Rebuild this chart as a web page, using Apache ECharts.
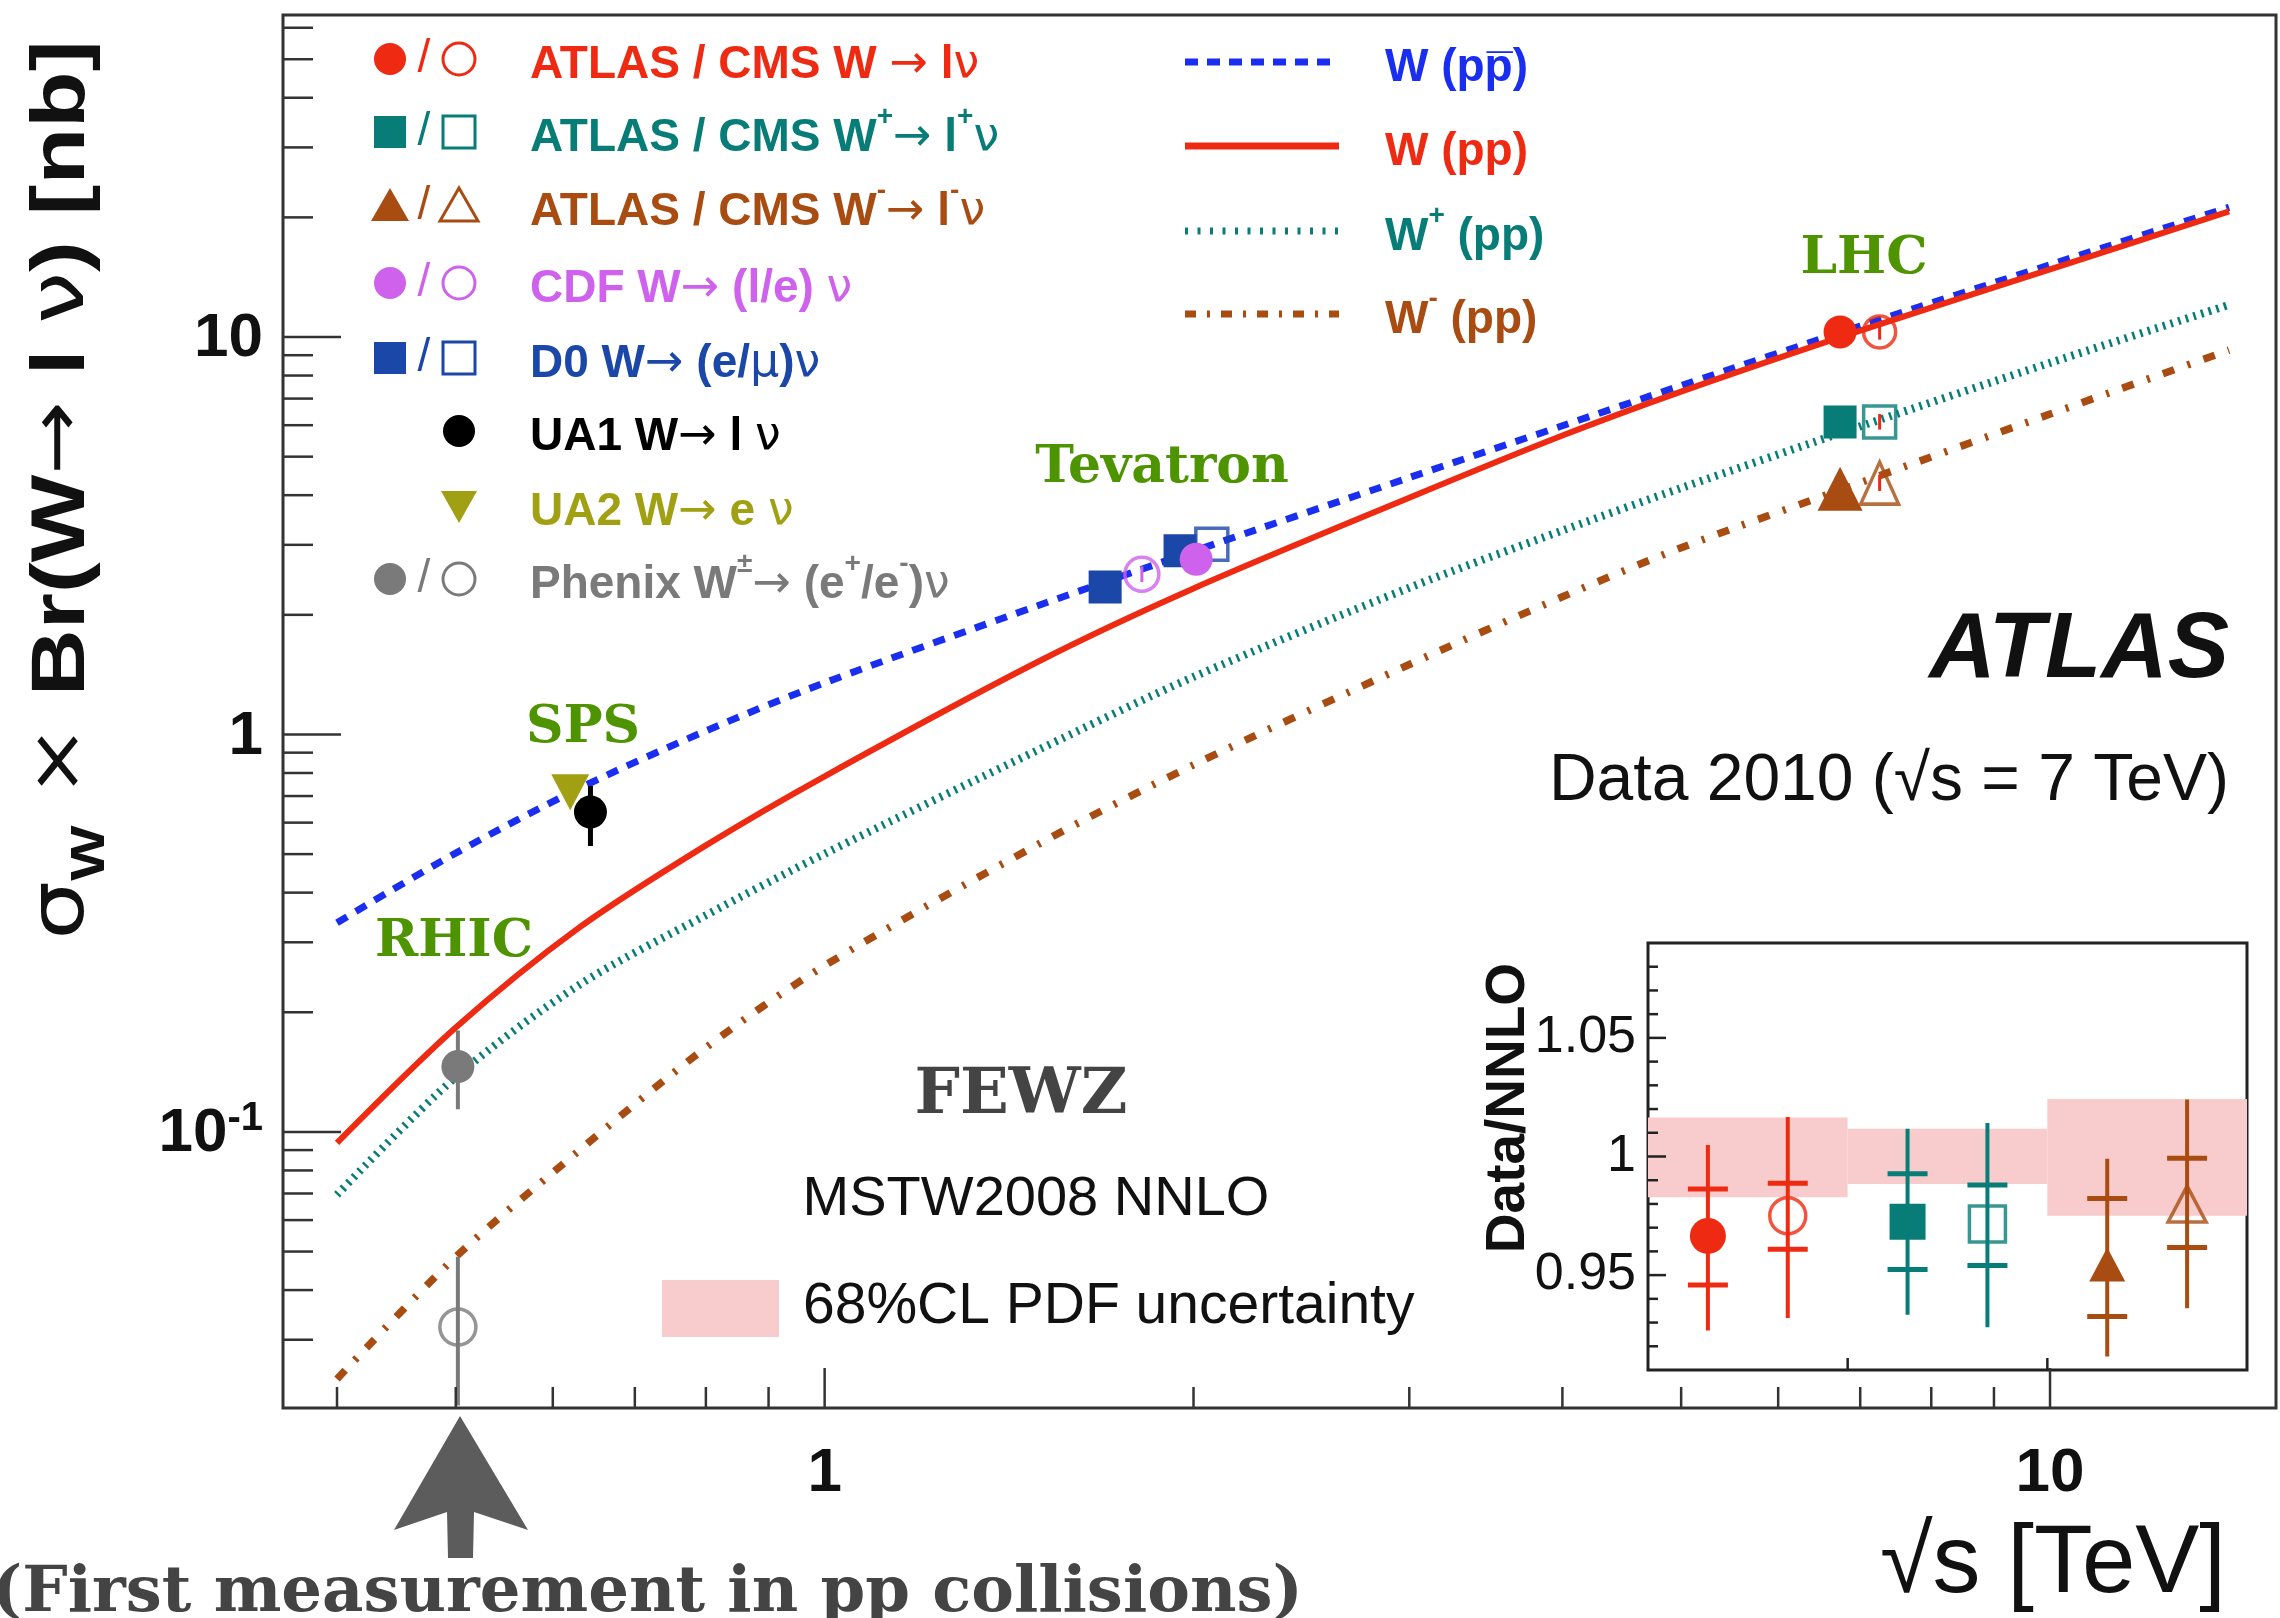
<!DOCTYPE html>
<html><head><meta charset="utf-8">
<script src="https://cdn.jsdelivr.net/npm/echarts@6/dist/echarts.min.js"></script>
<style>html,body{margin:0;padding:0;background:#fff}#c{width:2280px;height:1618px}</style>
</head><body><div id="c"></div><script>
// ---------- theory curves (sqrt(s) in TeV, sigma x BR in nb) ----------
const sqrtS    = [0.4, 0.5, 0.63, 0.8, 1, 1.5, 2, 3, 4, 5, 7, 10, 14];
const wPPbar   = [0.336, 0.503, 0.731, 1.021, 1.349, 2.12, 2.89, 4.43, 5.98, 7.55, 10.66, 15.2, 21.2];
const wPP      = [0.0938, 0.183, 0.326, 0.526, 0.785, 1.535, 2.33, 3.94, 5.65, 7.29, 10.38, 14.8, 20.7];
const wPlusPP  = [0.0695, 0.1374, 0.234, 0.351, 0.501, 0.920, 1.396, 2.34, 3.26, 4.17, 5.96, 8.61, 12.05];
const wMinusPP = [0.0239, 0.0485, 0.0896, 0.163, 0.262, 0.533, 0.838, 1.50, 2.22, 2.95, 4.30, 6.40, 9.27];

// ---------- measurements [sqrt(s), sigma] and error bars [sqrt(s), lo, hi] ----------
const atlasW     = [[6.74, 10.3]];
const cmsW       = [[7.26, 10.3]];
const atlasWplus = [[6.74, 6.11]];
const cmsWplus   = [[7.26, 6.11]];
const atlasWminus= [[6.74, 4.15]];
const cmsWminus  = [[7.26, 4.29]];
const cdfFilled  = [[2.01, 2.76]];
const cdfOpen    = [[1.815, 2.53]];
const d0Filled   = [[1.694, 2.35], [1.95, 2.90]];
const d0Open     = [[2.07, 3.01]];
const ua1        = [[0.644, 0.638]];
const ua2        = [[0.620, 0.716]];
const phenixPlus = [[0.502, 0.146]];
const phenixMinus= [[0.502, 0.0323]];
const ua1Err     = [[0.644, 0.524, 0.742]];
const phenixErr  = [[0.502, 0.114, 0.180], [0.502, 0.0205, 0.0485]];
const lhcOpenErr = [[7.26, 9.85, 10.75], [7.26, 5.85, 6.4], [7.26, 4.1, 4.5]];
const cdfOpenErr = [[1.815, 2.42, 2.65]];

// ---------- axes ----------
const X_MIN = 0.3614, X_MAX = 15.29, Y_MIN = 0.0202, Y_MAX = 64.6;
const xMajorTicks = [1, 10];
const xTickLabels = ['1', '10'];
const xMinorTicks = [0.4, 0.5, 0.6, 0.7, 0.8, 0.9, 2, 3, 4, 5, 6, 7, 8, 9];
const yMajorTicks = [0.1, 1, 10];
const yTickLabels = ['{m|10}{s|-1}', '{m|1}', '{m|10}'];
const yMinorTicks = [0.03, 0.04, 0.05, 0.06, 0.07, 0.08, 0.09, 0.2, 0.3, 0.4, 0.5, 0.6, 0.7, 0.8, 0.9,
                     2, 3, 4, 5, 6, 7, 8, 9, 20, 30, 40, 50, 60];

// ---------- inset: Data / NNLO ----------
const ratioGroups = ['W', 'W+', 'W-'];
const ratioX      = [0.3, 0.7, 1.3, 1.7, 2.3, 2.7];
const ratioVal    = [0.9665, 0.975, 0.9725, 0.9715, 0.9545, 0.980];
const ratioStatLo = [0.9458, 0.9609, 0.9524, 0.9541, 0.9326, 0.9616];
const ratioStatHi = [0.9863, 0.9887, 0.9927, 0.9880, 0.9823, 0.9993];
const ratioTotLo  = [0.9267, 0.9319, 0.9333, 0.9280, 0.9157, 0.9360];
const ratioTotHi  = [1.0049, 1.0167, 1.0117, 1.0141, 0.9990, 1.0240];
const pdfBandLo   = [0.9828, 0.9884, 0.9750];
const pdfBandHi   = [1.0164, 1.0117, 1.0242];
const R_MIN = 0.91, R_MAX = 1.09;
const rMajorTicks = [0.95, 1, 1.05];
const rTickLabels = ['0.95', '1', '1.05'];
const rMinorTicks = [0.92, 0.93, 0.94, 0.96, 0.97, 0.98, 0.99, 1.01, 1.02, 1.03, 1.04, 1.06, 1.07, 1.08];
const rXTicks = [1, 2];

// ---------- styles ----------
const C = {
  red: '#ee2a12', teal: '#087d78', brown: '#a84c12', violet: '#cf62ec', d0: '#1a47a8',
  blue: '#1a2ef0', olive: '#a0a012', gray: '#7a7a7a', green: '#4e9400', frame: '#333'
};
const SANS = 'Liberation Sans, Arial, Helvetica, sans-serif';
const SERIF = 'DejaVu Serif, serif';

const chart = echarts.init(document.getElementById('c'), null, {renderer: 'canvas', width: 2280, height: 1618});

function curve(name, ys, color, width, dash) {
  return {type: 'line', name, xAxisIndex: 0, yAxisIndex: 0, data: sqrtS.map((s, i) => [s, ys[i]]),
    smooth: 0.3, symbol: 'none', showSymbol: false, silent: true, animation: false, z: 3,
    lineStyle: {color, width, type: dash, cap: 'butt'}};
}
function pts(data, symbol, size, color, open, rot, xi, yi) {
  return {type: 'scatter', xAxisIndex: xi || 0, yAxisIndex: yi || 0, data, symbol, symbolSize: size,
    symbolRotate: rot || 0, silent: true, animation: false, z: 6,
    itemStyle: open ? {color: 'rgba(255,255,255,0)', borderColor: color, borderWidth: 3.5} : {color, opacity: 1}};
}
function errBars(data, color, width) {
  return {type: 'custom', xAxisIndex: 0, yAxisIndex: 0, data, silent: true, animation: false, z: 5,
    renderItem(params, api) {
      const a = api.coord([api.value(0), api.value(1)]);
      const b = api.coord([api.value(0), api.value(2)]);
      return {type: 'line', shape: {x1: a[0], y1: a[1], x2: b[0], y2: b[1]}, style: {stroke: color, lineWidth: width}};
    }};
}
const tickStyle = {stroke: C.frame, lineWidth: 2.5};
const mainTickFont = {fontFamily: SANS, fontWeight: 'bold', fontSize: 62, fill: '#111'};

const mainTicks = [
  {type: 'custom', xAxisIndex: 0, yAxisIndex: 0, silent: true, animation: false, z: 8,
   data: xMajorTicks.map((v, i) => [v, Y_MIN, 1, i]).concat(xMinorTicks.map(v => [v, Y_MIN, 0, -1])),
   renderItem(params, api) {
     const p = api.coord([api.value(0), Y_MIN]);
     const major = api.value(2) === 1;
     const ch = [{type: 'line', shape: {x1: p[0], y1: p[1], x2: p[0], y2: p[1] - (major ? 40 : 21)}, style: tickStyle}];
     if (major) ch.push({type: 'text', x: p[0], y: p[1] + 66,
       style: Object.assign({text: xTickLabels[api.value(3)], align: 'center', verticalAlign: 'middle'}, mainTickFont)});
     return {type: 'group', children: ch};
   }},
  {type: 'custom', xAxisIndex: 0, yAxisIndex: 0, silent: true, animation: false, z: 8,
   data: yMajorTicks.map((v, i) => [X_MIN, v, 1, i]).concat(yMinorTicks.map(v => [X_MIN, v, 0, -1])),
   renderItem(params, api) {
     const p = api.coord([X_MIN, api.value(1)]);
     const major = api.value(2) === 1;
     const ch = [{type: 'line', shape: {x1: p[0], y1: p[1], x2: p[0] + (major ? 58 : 30), y2: p[1]}, style: tickStyle}];
     if (major) ch.push({type: 'text', x: p[0] - 20, y: p[1],
       style: {text: yTickLabels[api.value(3)], align: 'right', verticalAlign: 'middle',
         rich: {m: {fontFamily: SANS, fontWeight: 'bold', fontSize: 62, fill: '#111', lineHeight: 66, verticalAlign: 'bottom'},
                s: {fontFamily: SANS, fontWeight: 'bold', fontSize: 40, fill: '#111', lineHeight: 40, verticalAlign: 'top'}}}});
     return {type: 'group', children: ch};
   }}
];

// inset series
const insetSeries = [
  {type: 'custom', xAxisIndex: 1, yAxisIndex: 1, silent: true, animation: false, z: 4,
   data: ratioGroups.map((g, i) => [i, i + 1, pdfBandLo[i], pdfBandHi[i]]),
   renderItem(params, api) {
     const a = api.coord([api.value(0), api.value(3)]);
     const b = api.coord([api.value(1), api.value(2)]);
     return {type: 'rect', shape: {x: a[0], y: a[1], width: b[0] - a[0], height: b[1] - a[1]}, style: {fill: '#f8cccc'}};
   }},
  {type: 'custom', xAxisIndex: 1, yAxisIndex: 1, silent: true, animation: false, z: 5,
   data: ratioX.map((x, i) => [x, ratioTotLo[i], ratioTotHi[i], ratioStatLo[i], ratioStatHi[i], i]),
   renderItem(params, api) {
     const col = [C.red, C.red, C.teal, C.teal, C.brown, C.brown][api.value(5)];
     const x = api.value(0);
     const a = api.coord([x, api.value(1)]), b = api.coord([x, api.value(2)]);
     const c = api.coord([x, api.value(3)]), d = api.coord([x, api.value(4)]);
     const st = {stroke: col, lineWidth: 4};
     return {type: 'group', children: [
       {type: 'line', shape: {x1: a[0], y1: a[1], x2: b[0], y2: b[1]}, style: st},
       {type: 'line', shape: {x1: c[0] - 20, y1: c[1], x2: c[0] + 20, y2: c[1]}, style: {stroke: col, lineWidth: 5}},
       {type: 'line', shape: {x1: d[0] - 20, y1: d[1], x2: d[0] + 20, y2: d[1]}, style: {stroke: col, lineWidth: 5}}]};
   }},
  pts([[ratioX[0], ratioVal[0]]], 'circle', 36, C.red, false, 0, 1, 1),
  pts([[ratioX[1], ratioVal[1]]], 'circle', 36, C.red, true, 0, 1, 1),
  pts([[ratioX[2], ratioVal[2]]], 'rect', 36, C.teal, false, 0, 1, 1),
  pts([[ratioX[3], ratioVal[3]]], 'rect', 36, C.teal, true, 0, 1, 1),
  pts([[ratioX[4], ratioVal[4]]], 'triangle', [36, 34], C.brown, false, 0, 1, 1),
  pts([[ratioX[5], ratioVal[5]]], 'triangle', [38, 36], C.brown, true, 0, 1, 1),
  {type: 'custom', xAxisIndex: 1, yAxisIndex: 1, silent: true, animation: false, z: 8,
   data: rMajorTicks.map((v, i) => [0, v, 1, i]).concat(rMinorTicks.map(v => [0, v, 0, -1])),
   renderItem(params, api) {
     const p = api.coord([0, api.value(1)]);
     const major = api.value(2) === 1;
     const ch = [{type: 'line', shape: {x1: p[0], y1: p[1], x2: p[0] + (major ? 18 : 10), y2: p[1]}, style: {stroke: '#222', lineWidth: 2.5}}];
     if (major) ch.push({type: 'text', x: p[0] - 12, y: p[1],
       style: {text: rTickLabels[api.value(3)], align: 'right', verticalAlign: 'middle', fontFamily: SANS, fontSize: 52, fill: '#111'}});
     return {type: 'group', children: ch};
   }},
  {type: 'custom', xAxisIndex: 1, yAxisIndex: 1, silent: true, animation: false, z: 8,
   data: rXTicks.map(v => [v, R_MIN]),
   renderItem(params, api) {
     const p = api.coord([api.value(0), R_MIN]);
     return {type: 'line', shape: {x1: p[0], y1: p[1], x2: p[0], y2: p[1] - 12}, style: {stroke: '#222', lineWidth: 2.5}};
   }}
];

// ---------- graphic decorations (legends, labels) ----------
const legendLabels = [
  '{t|ATLAS / CMS W }{n|→}{t| l}{n|ν}',
  '{t|ATLAS / CMS W}{u|+}{n|→}{t| l}{u|+}{n|ν}',
  '{t|ATLAS / CMS W}{u|-}{n|→}{t| l}{u|-}{n|ν}',
  '{t|CDF W}{n|→}{t| (l/e) }{n|ν}',
  '{t|D0 W}{n|→}{t| (e/}{n|μ}{t|)}{n|ν}',
  '{t|UA1 W}{n|→}{t| l }{n|ν}',
  '{t|UA2 W}{n|→}{t| e }{n|ν}',
  '{t|Phenix W}{u|±}{n|→}{t| (e}{u|+}{t|/e}{u|-}{t|)}{n|ν}'
];
const legendColors = [C.red, C.teal, C.brown, C.violet, C.d0, '#000', C.olive, C.gray];
const legendShapes = ['circle', 'rect', 'tri', 'circle', 'rect', 'circle1', 'dtri1', 'circle'];
const legendRowsY = [59, 132, 206, 283, 358, 431, 506, 579];

function richFor(col, size) {
  return {
    t: {fontFamily: SANS, fontWeight: 'bold', fontSize: size, fill: col, lineHeight: size + 12, verticalAlign: 'bottom'},
    n: {fontFamily: 'DejaVu Sans, ' + SANS, fontSize: size, fill: col, lineHeight: size + 12, verticalAlign: 'bottom'},
    u: {fontFamily: SANS, fontWeight: 'bold', fontSize: Math.round(size * 0.6), fill: col, lineHeight: Math.round(size * 0.6), verticalAlign: 'top'}
  };
}
function marker(shape, x, y, col, open) {
  const st = open ? {fill: 'none', stroke: col, lineWidth: 3} : {fill: col};
  if (shape === 'circle') return {type: 'circle', shape: {cx: x, cy: y, r: 16}, style: st};
  if (shape === 'rect') return {type: 'rect', shape: {x: x - 16, y: y - 16, width: 32, height: 32}, style: st};
  if (shape === 'tri') return {type: 'polygon', shape: {points: [[x, y - 18], [x - 19, y + 15], [x + 19, y + 15]]}, style: st};
  if (shape === 'dtri') return {type: 'polygon', shape: {points: [[x - 18, y - 15], [x + 18, y - 15], [x, y + 17]]}, style: st};
}
const graphics = [];
legendLabels.forEach((lab, i) => {
  const y = legendRowsY[i], col = legendColors[i], sh = legendShapes[i];
  if (sh.endsWith('1')) {
    graphics.push(marker(sh.slice(0, -1), 459, y, col, false));
  } else {
    graphics.push(marker(sh, 390, y, col, false));
    graphics.push({type: 'text', x: 424, y: y, style: {text: '/', align: 'center', verticalAlign: 'middle', fontFamily: SANS, fontSize: 46, fill: col}});
    graphics.push(marker(sh, 459, y, col, true));
  }
  graphics.push({type: 'text', x: 530, y: y, style: {text: lab, align: 'left', verticalAlign: 'middle', rich: richFor(col, 46)}});
});

const lineLegend = [
  {text: '{t|W (p}{t|p\u0305}{t|)}', col: C.blue, dash: [13, 9], w: 7},
  {text: '{t|W (pp)}', col: C.red, dash: 'solid', w: 7},
  {text: '{t|W}{u|+}{t| (pp)}', col: C.teal, dash: [3, 9.5], w: 7},
  {text: '{t|W}{u|-}{t| (pp)}', col: C.brown, dash: [11, 11, 3, 11], w: 7}
];
const lineLegendY = [62, 146, 231, 314];
lineLegend.forEach((it, i) => {
  const y = lineLegendY[i];
  graphics.push({type: 'line', shape: {x1: 1185, y1: y, x2: 1339, y2: y},
    style: {stroke: it.col, lineWidth: it.w, lineDash: it.dash === 'solid' ? null : it.dash, lineCap: 'butt'}});
  graphics.push({type: 'text', x: 1385, y: y, style: {text: it.text, align: 'left', verticalAlign: 'middle', rich: richFor(it.col, 46)}});
});

const greenLabels = [
  {text: 'LHC', x: 1864, y: 259}, {text: 'Tevatron', x: 1162, y: 468},
  {text: 'SPS', x: 583, y: 728}, {text: 'RHIC', x: 454, y: 942}
];
greenLabels.forEach(g => graphics.push({type: 'text', x: g.x, y: g.y,
  style: {text: g.text, align: 'center', verticalAlign: 'middle', fontFamily: SERIF, fontWeight: 'bold', fontSize: 52, fill: C.green}}));

graphics.push(
  {type: 'text', x: 70, y: 490, rotation: Math.PI / 2, scaleX: 1.22,
   style: {text: '{g|σ}{s|W}{n| × }{b|Br(W}{n|→}{b| l }{g|ν}{b|) [nb]}', align: 'center', verticalAlign: 'middle',
     rich: {b: {fontFamily: SANS, fontWeight: 'bold', fontSize: 76, fill: '#111', lineHeight: 90, verticalAlign: 'top'},
            n: {fontFamily: 'DejaVu Sans, ' + SANS, fontSize: 72, fill: '#111', lineHeight: 90, verticalAlign: 'top'},
            g: {fontFamily: 'DejaVu Sans, ' + SANS, fontSize: 76, fill: '#111', lineHeight: 90, verticalAlign: 'top'},
            s: {fontFamily: SANS, fontWeight: 'bold', fontSize: 48, fill: '#111', lineHeight: 48, verticalAlign: 'bottom'}}}},
  {type: 'text', x: 2226, y: 1566,
   style: {text: '√s [TeV]', align: 'right', verticalAlign: 'middle', fontFamily: SANS, fontSize: 96, fill: '#111'}},
  {type: 'text', x: 2229, y: 652,
   style: {text: 'ATLAS', align: 'right', verticalAlign: 'middle', fontFamily: SANS, fontWeight: 'bold', fontStyle: 'italic', fontSize: 92, fill: '#111'}},
  {type: 'text', x: 2229, y: 782,
   style: {text: 'Data 2010 (√s = 7 TeV)', align: 'right', verticalAlign: 'middle', fontFamily: SANS, fontSize: 66, fill: '#111'}},
  {type: 'text', x: 1021, y: 1096,
   style: {text: 'FEWZ', align: 'center', verticalAlign: 'middle', fontFamily: SERIF, fontWeight: 'bold', fontSize: 64, fill: '#444'}},
  {type: 'text', x: 1036, y: 1200,
   style: {text: 'MSTW2008 NNLO', align: 'center', verticalAlign: 'middle', fontFamily: SANS, fontSize: 56, fill: '#111'}},
  {type: 'rect', shape: {x: 662, y: 1280, width: 117, height: 57}, style: {fill: '#f8cccc'}},
  {type: 'text', x: 803, y: 1307,
   style: {text: '68%CL PDF uncertainty', align: 'left', verticalAlign: 'middle', fontFamily: SANS, fontSize: 57, fill: '#111'}},
  {type: 'text', x: 1509, y: 1108, rotation: Math.PI / 2,
   style: {text: 'Data/NNLO', align: 'center', verticalAlign: 'middle', fontFamily: SANS, fontWeight: 'bold', fontSize: 55, fill: '#111'}},
  {type: 'text', x: 1738, y: 1013,
   style: {text: 'W', align: 'center', verticalAlign: 'middle', fontFamily: SANS, fontSize: 62, fill: '#111'}},
  {type: 'text', x: 1952, y: 1013,
   style: {text: '{w|W}{u|+}', align: 'center', verticalAlign: 'middle',
     rich: {w: {fontFamily: SANS, fontSize: 62, fill: '#111', lineHeight: 72, verticalAlign: 'bottom'}, u: {fontFamily: SANS, fontWeight: 'bold', fontSize: 38, fill: '#111', lineHeight: 38, verticalAlign: 'top'}}}},
  {type: 'text', x: 2146, y: 1013,
   style: {text: '{w|W}{u|-}', align: 'center', verticalAlign: 'middle',
     rich: {w: {fontFamily: SANS, fontSize: 62, fill: '#111', lineHeight: 72, verticalAlign: 'bottom'}, u: {fontFamily: SANS, fontWeight: 'bold', fontSize: 38, fill: '#111', lineHeight: 38, verticalAlign: 'top'}}}},
  {type: 'polygon', shape: {points: [[460, 1416], [528, 1530], [474, 1512], [473, 1558], [448, 1558], [447, 1512], [394, 1530]]},
   style: {fill: '#5c5c5c'}},
  {type: 'text', x: -8, y: 1594,
   style: {text: '(First measurement in pp collisions)', align: 'left', verticalAlign: 'middle', fontFamily: SERIF, fontWeight: 'bold', fontSize: 64, fill: '#444'}}
);

const option = {
  animation: false,
  backgroundColor: '#fff',
  grid: [
    {left: 283, top: 15, width: 1993, height: 1393, show: true, borderColor: C.frame, borderWidth: 3, backgroundColor: 'rgba(0,0,0,0)', containLabel: false},
    {left: 1648, top: 943, width: 599, height: 427, show: true, borderColor: '#222', borderWidth: 3, backgroundColor: '#fff', containLabel: false, z: 4}
  ],
  xAxis: [
    {type: 'log', gridIndex: 0, min: X_MIN, max: X_MAX, logBase: 10, axisLine: {show: false}, axisTick: {show: false}, axisLabel: {show: false}, splitLine: {show: false}},
    {type: 'value', gridIndex: 1, min: 0, max: 3, axisLine: {show: false}, axisTick: {show: false}, axisLabel: {show: false}, splitLine: {show: false}}
  ],
  yAxis: [
    {type: 'log', gridIndex: 0, min: Y_MIN, max: Y_MAX, logBase: 10, axisLine: {show: false}, axisTick: {show: false}, axisLabel: {show: false}, splitLine: {show: false}},
    {type: 'value', gridIndex: 1, min: R_MIN, max: R_MAX, axisLine: {show: false}, axisTick: {show: false}, axisLabel: {show: false}, splitLine: {show: false}}
  ],
  graphic: {elements: graphics},
  series: [
    curve('W (ppbar)', wPPbar, C.blue, 7, [12, 10]),
    curve('W (pp)', wPP, C.red, 6, 'solid'),
    curve('W+ (pp)', wPlusPP, C.teal, 8, [2.5, 5.5]),
    curve('W- (pp)', wMinusPP, C.brown, 7.5, [12, 14, 3, 14]),
    errBars(ua1Err, '#000', 5),
    errBars(phenixErr, C.gray, 4),
    errBars(lhcOpenErr, C.red, 3),
    errBars(cdfOpenErr, C.violet, 3),
    pts(d0Filled, 'rect', 33, C.d0, false),
    pts(d0Open, 'rect', 32, C.d0, true),
    pts(cdfOpen, 'circle', 34, C.violet, true),
    pts(cdfFilled, 'circle', 33, C.violet, false),
    pts(atlasW, 'circle', 33, C.red, false),
    pts(cmsW, 'circle', 32, C.red, true),
    pts(atlasWplus, 'rect', 33, C.teal, false),
    pts(cmsWplus, 'rect', 32, C.teal, true),
    pts(atlasWminus, 'triangle', [45, 44], C.brown, false),
    pts(cmsWminus, 'triangle', [38, 42], C.brown, true),
    pts(ua2, 'triangle', [38, 36], C.olive, false, 180),
    pts(ua1, 'circle', 33, '#000', false),
    pts(phenixPlus, 'circle', 33, C.gray, false),
    pts(phenixMinus, 'circle', 36, C.gray, true)
  ].concat(mainTicks).concat(insetSeries)
};
chart.setOption(option);
</script></body></html>
